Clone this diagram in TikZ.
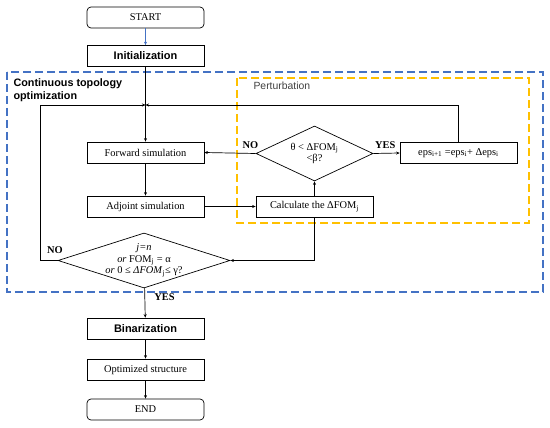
\documentclass[tikz,border=0pt]{standalone}
\usepackage{fontspec}
\setmainfont{Liberation Serif}
\setsansfont{Liberation Sans}
\usetikzlibrary{shapes.geometric, arrows.meta}
\definecolor{loopblue}{RGB}{68,114,196}
\definecolor{pertgold}{RGB}{255,192,0}

\begin{document}
\begin{tikzpicture}[
            x=1pt, y=-1pt,
            every node/.style={align=center, font=\fontsize{10.4}{11.5}\selectfont},
            box/.style={draw, line width=0.7pt, minimum width=117pt, minimum height=21pt, inner sep=0pt},
            sbox/.style={box, font=\sffamily\bfseries\fontsize{11}{12}\selectfont},
            term/.style={box, rounded corners=4pt},
            decision/.style={draw, line width=0.7pt, diamond, inner sep=0pt},
            flow/.style={-{Stealth[length=3.5pt, width=3pt]}, line width=0.7pt},
            answer/.style={font=\bfseries\fontsize{10.4}{11.5}\selectfont}
        ]
            \useasboundingbox (0,0) rectangle (550,428);
            % dashed regions
            \draw[loopblue, line width=1.2pt, dash pattern=on 8pt off 4pt] (7,72) rectangle (543,292);
            \draw[pertgold, line width=1.2pt, dash pattern=on 8pt off 4pt] (237,78) rectangle (529,223);
            \node[anchor=north west, align=left, font=\sffamily\bfseries\fontsize{10.8}{13.5}\selectfont] (ctolabel) at (10,75) {Continuous topology\\optimization};
            \node[anchor=west, text=black!75, font=\sffamily\fontsize{10.4}{11.5}\selectfont] (pertlabel) at (250,86) {Perturbation};

            % nodes
            \node[term] (start) at (145.5,17.5) {START};
            \node[sbox] (init) at (145.5,56) {Initialization};
            \coordinate (join) at (145.5,105);
            \node[box] (fwd) at (145.5,152.5) {Forward simulation};
            \node[box] (adj) at (145.5,206.5) {Adjoint simulation};
            \node[box] (calc) at (314.5,206.5) {Calculate the ΔFOM\textsubscript{j}};
            \node[decision, minimum width=117pt, minimum height=55pt] (cond) at (314.5,153.5) {};
            \node (condtxt) at (cond) {θ < ΔFOM\textsubscript{j}\\<β?};
            \node[box] (eps) at (458.5,153) {eps\textsubscript{i+1} =eps\textsubscript{i}+ Δeps\textsubscript{i}};
            \node[decision, minimum width=172pt, minimum height=55pt] (stop) at (144,260.5) {};
            \node (stoptxt) at (stop) {\textit{j=n}\\\textit{or} FOM\textsubscript{j} = α\\\textit{or} 0 ≤ \textit{ΔFOM}\textsubscript{j}≤ γ?};
            \coordinate (back) at (40,105);
            \node[sbox] (bin) at (145.5,328.5) {Binarization};
            \node[box] (opt) at (145.5,369.5) {Optimized structure};
            \node[term] (end) at (145.5,409.5) {END};

            % connectors
            \draw[flow, loopblue] (start) -- (init);
            \draw[flow] (init) -- (fwd);
            \draw[flow] (fwd) -- (adj);
            \draw[flow] (adj) -- (calc);
            \draw[flow] (calc) -- (cond);
            \draw[flow] (cond.east) -- (eps.west) node[answer, pos=0.45, above=1pt] (yes1) {YES};
            \draw[flow] (cond.west) -- (fwd.east) node[answer, pos=0.1, above=1pt] (no1) {NO};
            \draw[flow] (eps.north) |- (join);
            \draw[flow] (calc.south) |- (stop.east);
            \draw[flow] (stop.west) -| (back) -- (join);
            \node[answer] (no2) at (55,250) {NO};
            \draw[flow] (stop) -- (bin) node[answer, pos=0.3, right=6pt] (yes2) {YES};
            \draw[flow] (bin) -- (opt);
            \draw[flow] (opt) -- (end);
        \end{tikzpicture}
\end{document}
